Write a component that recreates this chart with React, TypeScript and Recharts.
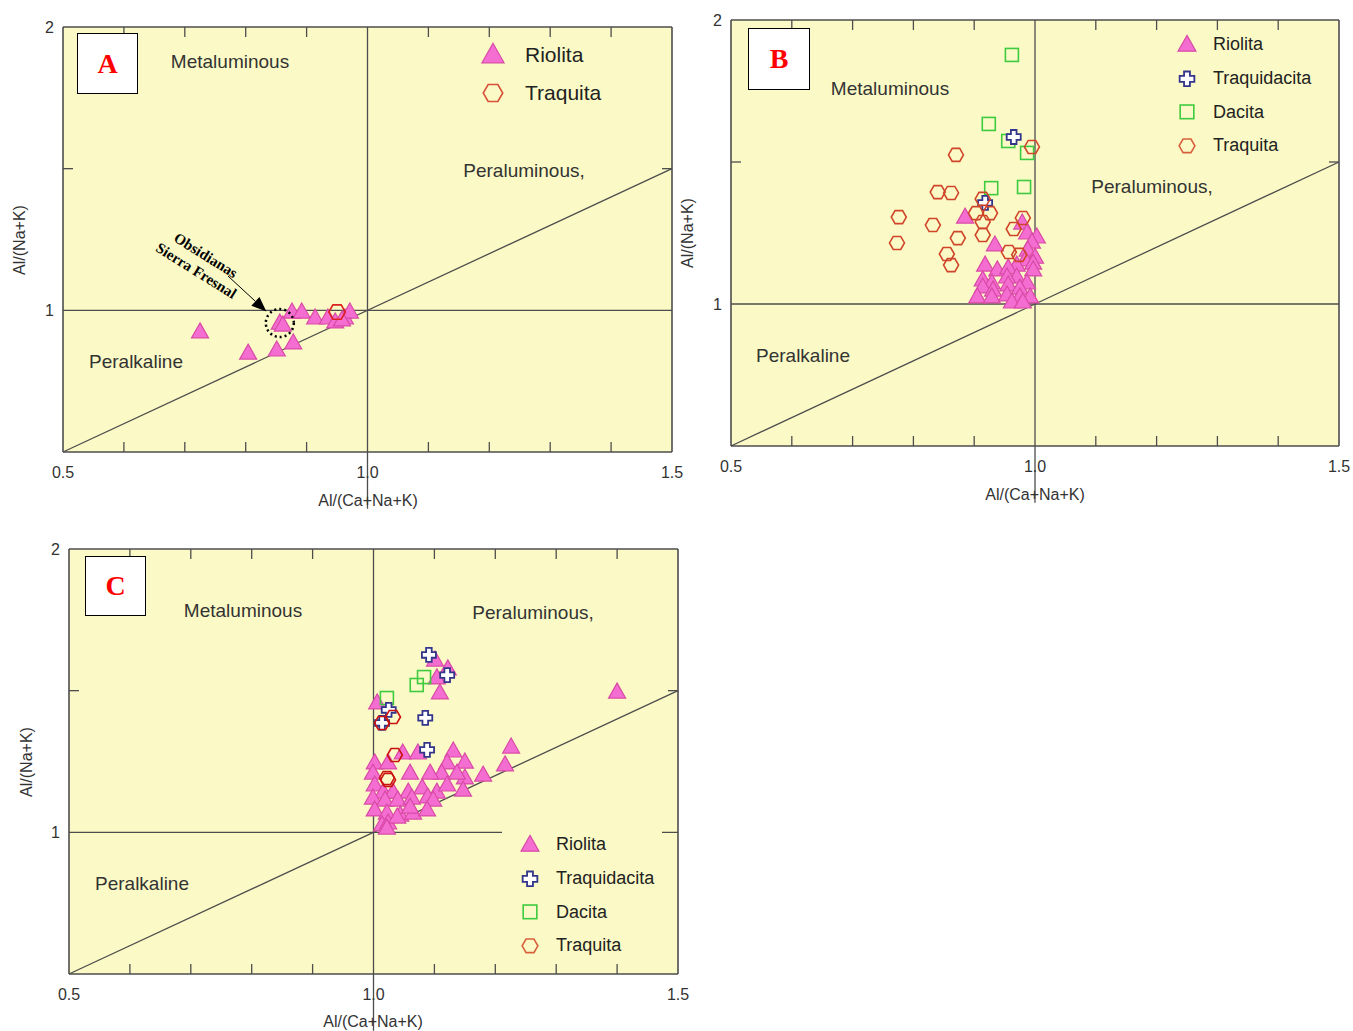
import React from "react";
import {
  ScatterChart,
  Scatter,
  XAxis,
  YAxis,
  CartesianGrid,
  ReferenceLine,
  ReferenceDot,
} from "recharts";

const BG = "#fbfac6";
const FRAME = "#4d4d4d";
const FONT = "'Liberation Sans', Arial, sans-serif";
const SERIF = "'Liberation Serif', 'Times New Roman', serif";

// axis ticks shared by the three diagrams
const xTickValues = [0.5, 1.0, 1.5];
const yTickValues = [1, 2];
const minorXTicks = [0.6, 0.7, 0.8, 0.9, 1.1, 1.2, 1.3, 1.4];
const minorYTicks = [1.5];

// ---- panel A ----
const riolitaA = [
  { x: 0.725, y: 0.924 }, { x: 0.804, y: 0.849 }, { x: 0.851, y: 0.86 },
  { x: 0.878, y: 0.885 }, { x: 0.856, y: 0.955 }, { x: 0.861, y: 0.948 },
  { x: 0.876, y: 0.994 }, { x: 0.892, y: 0.994 }, { x: 0.914, y: 0.973 },
  { x: 0.935, y: 0.973 }, { x: 0.947, y: 0.959 }, { x: 0.963, y: 0.973 },
  { x: 0.971, y: 0.994 }, { x: 0.958, y: 0.966 },
];
const traquitaA = [{ x: 0.95, y: 0.994 }];

// ---- panel B ----
const riolitaB = [
  { x: 0.885, y: 1.306 }, { x: 0.934, y: 1.208 }, { x: 0.979, y: 1.285 },
  { x: 0.987, y: 1.25 }, { x: 1.003, y: 1.236 }, { x: 0.995, y: 1.218 },
  { x: 0.988, y: 1.19 }, { x: 1.0, y: 1.165 }, { x: 0.984, y: 1.155 },
  { x: 0.997, y: 1.144 }, { x: 0.97, y: 1.137 }, { x: 0.918, y: 1.137 },
  { x: 0.938, y: 1.12 }, { x: 0.956, y: 1.127 }, { x: 0.997, y: 1.12 },
  { x: 0.97, y: 1.095 }, { x: 0.954, y: 1.095 }, { x: 0.914, y: 1.085 },
  { x: 0.929, y: 1.074 }, { x: 0.987, y: 1.074 }, { x: 0.914, y: 1.06 },
  { x: 0.956, y: 1.067 }, { x: 0.975, y: 1.056 }, { x: 0.931, y: 1.049 },
  { x: 0.905, y: 1.025 }, { x: 0.929, y: 1.025 }, { x: 0.954, y: 1.032 },
  { x: 0.975, y: 1.025 }, { x: 0.992, y: 1.025 }, { x: 0.962, y: 1.007 },
  { x: 0.98, y: 1.007 },
];
const dacitaB = [
  { x: 0.962, y: 1.877 }, { x: 0.924, y: 1.634 }, { x: 0.956, y: 1.574 },
  { x: 0.987, y: 1.532 }, { x: 0.928, y: 1.408 }, { x: 0.982, y: 1.412 },
];
const traquidacitaB = [{ x: 0.965, y: 1.588 }, { x: 0.918, y: 1.356 }];
const traquitaB = [
  { x: 0.995, y: 1.553 }, { x: 0.87, y: 1.525 }, { x: 0.84, y: 1.394 },
  { x: 0.862, y: 1.391 }, { x: 0.776, y: 1.306 }, { x: 0.832, y: 1.278 },
  { x: 0.773, y: 1.215 }, { x: 0.873, y: 1.232 }, { x: 0.855, y: 1.176 },
  { x: 0.862, y: 1.137 }, { x: 0.914, y: 1.37 }, { x: 0.903, y: 1.32 },
  { x: 0.926, y: 1.32 }, { x: 0.914, y: 1.289 }, { x: 0.914, y: 1.243 },
  { x: 0.98, y: 1.303 }, { x: 0.965, y: 1.264 }, { x: 0.957, y: 1.183 },
  { x: 0.974, y: 1.173 },
];

// ---- panel C ----
const riolitaC = [
  { x: 1.101, y: 1.608 }, { x: 1.122, y: 1.577 }, { x: 1.104, y: 1.545 },
  { x: 1.109, y: 1.492 }, { x: 1.006, y: 1.457 }, { x: 1.4, y: 1.495 },
  { x: 1.226, y: 1.301 }, { x: 1.216, y: 1.238 }, { x: 1.048, y: 1.28 },
  { x: 1.073, y: 1.28 }, { x: 1.131, y: 1.287 }, { x: 1.15, y: 1.248 },
  { x: 1.18, y: 1.202 }, { x: 1.15, y: 1.192 }, { x: 1.121, y: 1.245 },
  { x: 1.112, y: 1.209 }, { x: 1.093, y: 1.209 }, { x: 1.06, y: 1.209 },
  { x: 1.002, y: 1.245 }, { x: 1.024, y: 1.245 }, { x: 0.999, y: 1.209 },
  { x: 1.002, y: 1.167 }, { x: 1.016, y: 1.142 }, { x: 1.032, y: 1.142 },
  { x: 1.057, y: 1.142 }, { x: 1.08, y: 1.157 }, { x: 1.104, y: 1.142 },
  { x: 1.121, y: 1.167 }, { x: 0.999, y: 1.121 }, { x: 1.019, y: 1.114 },
  { x: 1.04, y: 1.114 }, { x: 1.063, y: 1.121 }, { x: 1.089, y: 1.125 },
  { x: 1.002, y: 1.079 }, { x: 1.022, y: 1.068 }, { x: 1.044, y: 1.061 },
  { x: 1.065, y: 1.068 }, { x: 1.098, y: 1.114 }, { x: 1.014, y: 1.026 },
  { x: 1.024, y: 1.033 }, { x: 1.039, y: 1.054 }, { x: 1.06, y: 1.089 },
  { x: 1.088, y: 1.079 }, { x: 1.022, y: 1.015 }, { x: 1.137, y: 1.209 },
  { x: 1.147, y: 1.149 },
];
const dacitaC = [
  { x: 1.022, y: 1.474 }, { x: 1.071, y: 1.52 }, { x: 1.083, y: 1.548 },
];
const traquidacitaC = [
  { x: 1.091, y: 1.626 }, { x: 1.121, y: 1.555 }, { x: 1.085, y: 1.404 },
  { x: 1.088, y: 1.291 }, { x: 1.025, y: 1.432 }, { x: 1.014, y: 1.386 },
];
const traquitaC = [
  { x: 1.014, y: 1.386 }, { x: 1.032, y: 1.407 }, { x: 1.035, y: 1.273 },
  { x: 1.022, y: 1.192 }, { x: 1.024, y: 1.185 },
];

type Pt = { x: number; y: number };
type Kind = "tri" | "hex" | "cross" | "sq";
type Series = { name: string; kind: Kind; color: string; data: Pt[]; k?: number };

const PINK = "#f46ed2";
const PINK_EDGE = "#d94aa6";
const NAVY = "#33358a";
const GREEN = "#3fcb3f";

function Marker({ kind, cx, cy, color, k = 1 }: { kind: Kind; cx: number; cy: number; color: string; k?: number }) {
  if (kind === "tri") {
    const s = 8.5 * k;
    const h = 15 * k;
    return (
      <path
        d={`M${cx},${cy - h * 0.6} L${cx + s},${cy + h * 0.4} L${cx - s},${cy + h * 0.4} Z`}
        fill={PINK}
        stroke={PINK_EDGE}
        strokeWidth={1.2}
      />
    );
  }
  if (kind === "hex") {
    const r = 7.5 * k;
    const pts = [0, 60, 120, 180, 240, 300]
      .map((a) => {
        const t = (a * Math.PI) / 180;
        return `${cx + r * Math.cos(t)},${cy + r * Math.sin(t)}`;
      })
      .join(" ");
    return <polygon points={pts} fill="none" stroke={color} strokeWidth={1.6} />;
  }
  if (kind === "cross") {
    const a = 7 * k;
    const b = 2.8 * k;
    const p = [
      [-b, -a], [b, -a], [b, -b], [a, -b], [a, b], [b, b],
      [b, a], [-b, a], [-b, b], [-a, b], [-a, -b], [-b, -b],
    ]
      .map(([dx, dy]) => `${cx + dx},${cy + dy}`)
      .join(" ");
    return <polygon points={p} fill="#fff" stroke={color} strokeWidth={1.8} />;
  }
  const s = 6.5 * k;
  return <rect x={cx - s} y={cy - s} width={2 * s} height={2 * s} fill="none" stroke={color} strokeWidth={1.6} />;
}

function Arrow(p: any) {
  const { x1, y1, x2, y2 } = p;
  const dx = x2 - x1;
  const dy = y2 - y1;
  const len = Math.sqrt(dx * dx + dy * dy);
  const ux = dx / len;
  const uy = dy / len;
  const bx = x2 - ux * 15;
  const by = y2 - uy * 15;
  return (
    <g>
      <line x1={x1} y1={y1} x2={bx} y2={by} stroke="#000" strokeWidth={1} />
      <polygon
        points={`${x2},${y2} ${bx - uy * 6},${by + ux * 6} ${bx + uy * 6},${by - ux * 6}`}
        fill="#000"
      />
    </g>
  );
}

function Txt({ x, y, children, size = 19, rotate = 0, style = {} }: any) {
  return (
    <div
      style={{
        position: "absolute",
        left: x,
        top: y,
        transform: `translate(-50%,-50%) rotate(${rotate}deg)`,
        whiteSpace: "nowrap",
        fontFamily: FONT,
        fontSize: size,
        color: "#333",
        lineHeight: 1,
        ...style,
      }}
    >
      {children}
    </div>
  );
}

function LetterBox({ x, y, w, h, letter }: any) {
  return (
    <div
      style={{
        position: "absolute",
        left: x,
        top: y,
        width: w,
        height: h,
        boxSizing: "border-box",
        border: "1.5px solid #000",
        background: "#fff",
        display: "flex",
        alignItems: "center",
        justifyContent: "center",
        fontFamily: SERIF,
        fontWeight: "bold",
        fontSize: 28,
        color: "#ff0000",
      }}
    >
      {letter}
    </div>
  );
}

function Legend({ x, y, items, gap, size, k, markerW, markerCx, bg }: any) {
  return (
    <div
      style={{
        position: "absolute",
        left: x,
        top: y,
        background: bg ? BG : "transparent",
        paddingRight: 8,
      }}
    >
      {items.map((it: any) => (
        <div key={it.name} style={{ display: "flex", alignItems: "center", height: gap }}>
          <svg width={markerW} height={gap} style={{ flex: "none" }}>
            <Marker kind={it.kind} cx={markerCx} cy={gap / 2} color={it.color} k={k} />
          </svg>
          <span style={{ fontFamily: FONT, fontSize: size, color: "#222" }}>{it.name}</span>
        </div>
      ))}
    </div>
  );
}

const ML = 60;
const MT = 10;

function Panel({ left, top, w, h, series, extras }: { left: number; top: number; w: number; h: number; series: Series[]; extras?: any }) {
  const tx = 10 / w; // tick length in x units
  const ty = 10 / (h / 1.5); // tick length in y units
  const line = { stroke: FRAME, strokeWidth: 1.3 };
  return (
    <div style={{ position: "absolute", left: left - ML, top: top - MT }}>
      <ScatterChart width={w + ML + 30} height={h + MT + 70} margin={{ top: MT, right: 30, left: 0, bottom: 0 }}>
        <CartesianGrid horizontal={false} vertical={false} fill={BG} fillOpacity={1} />
        <XAxis
          type="number"
          dataKey="x"
          domain={[0.5, 1.5]}
          ticks={xTickValues}
          interval={0}
          tickFormatter={(v: number) => v.toFixed(1)}
          axisLine={false}
          tickLine={false}
          tickSize={0}
          tickMargin={15}
          height={70}
          tick={{ fill: "#333", fontSize: 16, fontFamily: FONT }}
        />
        <YAxis
          type="number"
          dataKey="y"
          domain={[0.5, 2]}
          ticks={yTickValues}
          interval={0}
          axisLine={false}
          tickLine={false}
          tickSize={0}
          tickMargin={9}
          width={ML}
          tick={{ fill: "#333", fontSize: 16, fontFamily: FONT }}
        />
        {minorXTicks.map((v) => (
          <ReferenceLine key={`b${v}`} segment={[{ x: v, y: 0.5 }, { x: v, y: 0.5 + ty }]} {...line} />
        ))}
        {minorXTicks.map((v) => (
          <ReferenceLine key={`t${v}`} segment={[{ x: v, y: 2 }, { x: v, y: 2 - ty }]} {...line} />
        ))}
        {minorYTicks.map((v) => (
          <ReferenceLine key={`l${v}`} segment={[{ x: 0.5, y: v }, { x: 0.5 + tx, y: v }]} {...line} />
        ))}
        {minorYTicks.map((v) => (
          <ReferenceLine key={`r${v}`} segment={[{ x: 1.5, y: v }, { x: 1.5 - tx, y: v }]} {...line} />
        ))}
        <ReferenceLine segment={[{ x: 1, y: 2 }, { x: 1, y: 0.3 }]} ifOverflow="visible" {...line} />
        <ReferenceLine y={1} {...line} />
        <ReferenceLine segment={[{ x: 0.5, y: 0.5 }, { x: 1.5, y: 1.5 }]} {...line} />
        <ReferenceLine x={0.5} stroke={FRAME} strokeWidth={1.6} />
        <ReferenceLine x={1.5} stroke={FRAME} strokeWidth={1.6} />
        <ReferenceLine y={0.5} stroke={FRAME} strokeWidth={1.6} />
        <ReferenceLine y={2} stroke={FRAME} strokeWidth={1.6} />
        {series.map((s) => (
          <Scatter
            key={s.name}
            name={s.name}
            data={s.data}
            isAnimationActive={false}
            shape={(p: any) => <Marker kind={s.kind} cx={p.cx} cy={p.cy} color={s.color} k={s.k} />}
          />
        ))}
        {extras}
      </ScatterChart>
    </div>
  );
}

const seriesA: Series[] = [
  { name: "Riolita", kind: "tri", color: PINK, data: riolitaA },
  { name: "Traquita", kind: "hex", color: "#dd2020", data: traquitaA, k: 1.1 },
];
const seriesB: Series[] = [
  { name: "Riolita", kind: "tri", color: PINK, data: riolitaB },
  { name: "Dacita", kind: "sq", color: GREEN, data: dacitaB },
  { name: "Traquidacita", kind: "cross", color: NAVY, data: traquidacitaB },
  { name: "Traquita", kind: "hex", color: "#d0452a", data: traquitaB },
];
const seriesC: Series[] = [
  { name: "Riolita", kind: "tri", color: PINK, data: riolitaC },
  { name: "Dacita", kind: "sq", color: GREEN, data: dacitaC },
  { name: "Traquidacita", kind: "cross", color: NAVY, data: traquidacitaC },
  { name: "Traquita", kind: "hex", color: "#cc1111", data: traquitaC },
];

const legend4 = [
  { name: "Riolita", kind: "tri", color: PINK },
  { name: "Traquidacita", kind: "cross", color: NAVY },
  { name: "Dacita", kind: "sq", color: GREEN },
  { name: "Traquita", kind: "hex", color: "#d8603e" },
];
const legend2 = [
  { name: "Riolita", kind: "tri", color: PINK },
  { name: "Traquita", kind: "hex", color: "#d8503a" },
];

export default function App() {
  return (
    <div style={{ position: "absolute", left: 0, top: 0, width: 1353, height: 1031, background: "#fff", overflow: "hidden" }}>
      {/* Panel A */}
      <Panel
        left={63}
        top={27}
        w={609}
        h={425}
        series={seriesA}
        extras={[
          <ReferenceDot key="circ" x={0.856} y={0.955} r={14} fill="none" stroke="#000" strokeWidth={2.5} strokeDasharray="2 3" />,
          <ReferenceLine
            key="arrow"
            segment={[{ x: 0.771, y: 1.121 }, { x: 0.834, y: 0.996 }]}
            ifOverflow="visible"
            shape={Arrow}
          />,
        ]}
      />
      <Txt x={230} y={61}>Metaluminous</Txt>
      <Txt x={524} y={170}>Peraluminous,</Txt>
      <Txt x={136} y={361}>Peralkaline</Txt>
      <Txt x={368} y={501} size={16}>Al/(Ca+Na+K)</Txt>
      <Txt x={20} y={240} size={16} rotate={-90}>Al/(Na+K)</Txt>
      <LetterBox x={77} y={33} w={61} h={61} letter="A" />
      <Legend x={478} y={36} items={legend2} gap={38} size={21} k={1.3} markerW={47} markerCx={15} />
      <Txt
        x={201}
        y={263}
        rotate={32}
        size={15}
        style={{ fontFamily: SERIF, fontWeight: "bold", color: "#000", textAlign: "center", lineHeight: "18px" }}
      >
        Obsidianas
        <br />
        Sierra Fresnal
      </Txt>

      {/* Panel B */}
      <Panel left={731} top={20} w={608} h={426} series={seriesB} />
      <Txt x={890} y={88}>Metaluminous</Txt>
      <Txt x={1152} y={186}>Peraluminous,</Txt>
      <Txt x={803} y={355}>Peralkaline</Txt>
      <Txt x={1035} y={495} size={16}>Al/(Ca+Na+K)</Txt>
      <Txt x={688} y={233} size={16} rotate={-90}>Al/(Na+K)</Txt>
      <LetterBox x={748} y={28} w={62} h={62} letter="B" />
      <Legend x={1172} y={28} items={legend4} gap={33.7} size={18} k={1.05} markerW={41} markerCx={15} />

      {/* Panel C */}
      <Panel left={69} top={549} w={609} h={425} series={seriesC} />
      <Txt x={243} y={610}>Metaluminous</Txt>
      <Txt x={533} y={612}>Peraluminous,</Txt>
      <Txt x={142} y={883}>Peralkaline</Txt>
      <Txt x={373} y={1022} size={16}>Al/(Ca+Na+K)</Txt>
      <Txt x={27} y={762} size={16} rotate={-90}>Al/(Na+K)</Txt>
      <LetterBox x={85} y={556} w={61} h={60} letter="C" />
      <Legend x={502} y={828} items={legend4} gap={33.7} size={18} k={1.05} markerW={54} markerCx={28} bg />
    </div>
  );
}
